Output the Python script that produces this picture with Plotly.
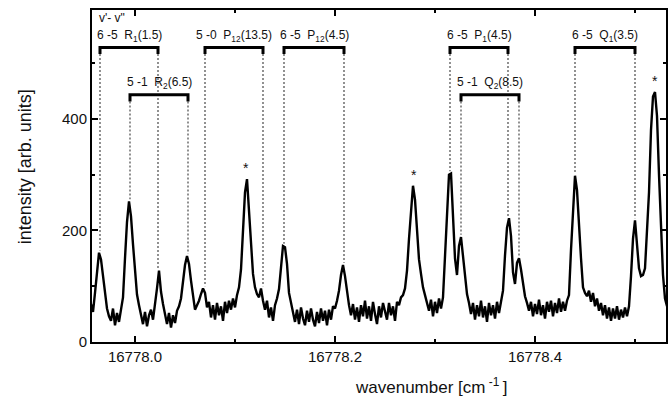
import numpy as np
import plotly.graph_objects as go

# ---------------- data ----------------
x_start = 16777.956      # first sample [cm-1]
x_step = 0.002           # sample spacing [cm-1]
intensity = [
    68, 54, 88, 128, 160, 148, 118, 84, 60, 46,
    38, 60, 30, 52, 36, 58, 80, 150, 215, 252,
    225, 175, 120, 85, 66, 46, 32, 54, 28, 48,
    58, 40, 66, 96, 128, 90, 68, 48, 32, 52,
    26, 48, 34, 56, 64, 78, 105, 138, 154, 140,
    110, 80, 58, 66, 74, 86, 96, 88, 62, 72,
    44, 66, 40, 70, 48, 64, 38, 72, 52, 74,
    58, 78, 62, 84, 98, 130, 205, 268, 292, 238,
    165, 122, 98, 86, 80, 96, 74, 58, 74, 44,
    62, 38, 66, 78, 95, 140, 172, 170, 140, 88,
    70, 52, 36, 58, 32, 62, 42, 30, 56, 36,
    60, 40, 28, 54, 34, 60, 38, 56, 30, 58,
    40, 64, 60, 74, 92, 120, 138, 118, 86, 66,
    48, 68, 40, 62, 36, 66, 46, 74, 42, 64,
    38, 72, 50, 32, 64, 44, 70, 52, 40, 70,
    48, 64, 38, 72, 66, 80, 84, 96, 128, 185,
    225, 280, 255, 190, 148, 122, 98, 84, 68, 56,
    76, 46, 72, 52, 78, 60, 80, 150, 240, 300,
    302, 225, 150, 120, 172, 188, 150, 110, 86, 70,
    50, 70, 40, 66, 46, 74, 44, 64, 36, 70,
    48, 66, 42, 72, 52, 72, 92, 155, 205, 222,
    190, 125, 104, 142, 150, 130, 102, 82, 70, 56,
    72, 46, 68, 50, 76, 48, 66, 42, 72, 54,
    74, 46, 70, 52, 78, 54, 72, 56, 74, 84,
    165, 245, 298, 272, 200, 150, 98, 88, 82, 92,
    72, 88, 64, 78, 56, 70, 48, 66, 42, 62,
    38, 60, 42, 64, 40, 58, 44, 62, 46, 64,
    118, 185, 218, 175, 132, 118, 120, 132, 190, 268,
    380, 440, 448, 405, 300, 200, 120, 78, 64,
]
wavenumber = [x_start + x_step * i for i in range(len(intensity))]

# assigned transitions (v'-v'' branch(J)), bracket ends [cm-1], bracket row
band_labels = [
    "6 -5\u00a0\u00a0R<sub>1</sub>(1.5)",
    "5 -1\u00a0\u00a0R<sub>2</sub>(6.5)",
    "5 -0\u00a0\u00a0P<sub>12</sub>(13.5)",
    "6 -5\u00a0\u00a0P<sub>12</sub>(4.5)",
    "6 -5\u00a0\u00a0P<sub>1</sub>(4.5)",
    "5 -1\u00a0\u00a0Q<sub>2</sub>(8.5)",
    "6 -5\u00a0\u00a0Q<sub>1</sub>(3.5)",
]
band_left = [16777.965, 16777.995, 16778.070, 16778.149, 16778.315, 16778.326, 16778.440]
band_right = [16778.023, 16778.053, 16778.128, 16778.209, 16778.373, 16778.384, 16778.500]
band_row = [0, 1, 0, 0, 0, 1, 0]

# peaks marked with an asterisk [cm-1]
marked_peaks = [16778.111, 16778.279, 16778.520]

x_tickvals = [16778.0, 16778.2, 16778.4]
y_tickvals = [0, 200, 400]

# ---------------- figure ----------------
FONT = "Liberation Sans, Arial, Helvetica, sans-serif"
wn = np.array(wavenumber)
it = np.array(intensity, dtype=float)


def peak_top(x0, half=0.003):
    m = (wn >= x0 - half) & (wn <= x0 + half)
    return float(it[m].max())


row_level = {0: 528, 1: 443}
leg = 12

fig = go.Figure()

# dashed guide lines from the brackets down to the peaks
dx, dy = [], []
for l, r, row in zip(band_left, band_right, band_row):
    for xe in (l, r):
        dx += [xe, xe, None]
        dy += [row_level[row] - leg, peak_top(xe) + 4, None]
fig.add_trace(go.Scatter(x=dx, y=dy, mode="lines",
                         line=dict(color="#858585", width=1.8, dash="2px,2px"),
                         hoverinfo="skip", showlegend=False))

# spectrum
fig.add_trace(go.Scatter(x=wavenumber, y=intensity, mode="lines",
                         line=dict(color="black", width=2.4),
                         showlegend=False))

# brackets
bx, by = [], []
for l, r, row in zip(band_left, band_right, band_row):
    lv = row_level[row]
    bx += [l, l, r, r, None]
    by += [lv - leg, lv, lv, lv - leg, None]
fig.add_trace(go.Scatter(x=bx, y=by, mode="lines",
                         line=dict(color="black", width=3),
                         hoverinfo="skip", showlegend=False))

annotations = []
for lab, l, r, row in zip(band_labels, band_left, band_right, band_row):
    annotations.append(dict(x=(l + r) / 2, y=row_level[row] + 21, xref="x", yref="y",
                            text=lab, showarrow=False, xanchor="center", yanchor="middle",
                            font=dict(family=FONT, size=12, color="#111")))
annotations.append(dict(x=band_left[0] - 0.0035, y=580, xref="x", yref="y",
                        text="v'- v\"", showarrow=False, xanchor="left", yanchor="middle",
                        font=dict(family=FONT, size=12, color="#111")))
for xp in marked_peaks:
    annotations.append(dict(x=xp, y=peak_top(xp) + 20, xref="x", yref="y",
                            text="*", showarrow=False, xanchor="center", yanchor="middle",
                            font=dict(family=FONT, size=14, color="#111")))
# axis titles
annotations.append(dict(x=(25 - 92) / 576, y=(342 - 167) / 332, xref="paper", yref="paper",
                        text="intensity [arb. units]", textangle=-90, showarrow=False,
                        xanchor="center", yanchor="middle",
                        font=dict(family=FONT, size=18, color="#111")))
annotations.append(dict(x=(432 - 92) / 576, y=(342 - 386) / 332, xref="paper", yref="paper",
                        text="wavenumber [cm<sup>\u00a0-1\u00a0</sup>]", showarrow=False,
                        xanchor="center", yanchor="middle",
                        font=dict(family=FONT, size=17, color="#111")))

fig.update_layout(
    width=668, height=405,
    margin=dict(l=92, r=0, t=10, b=63),
    paper_bgcolor="white", plot_bgcolor="white",
    font=dict(family=FONT, size=15, color="#111"),
    annotations=annotations,
    showlegend=False,
)
fig.update_xaxes(
    range=[16777.957, 16778.531],
    tickmode="array", tickvals=x_tickvals, tickformat=".1f",
    ticks="inside", ticklen=6, tickwidth=1.5, tickcolor="black",
    minor=dict(dtick=0.1, tick0=16778.0, ticks="inside", ticklen=3, tickwidth=1.5, tickcolor="black"),
    showline=True, linecolor="black", linewidth=2, mirror="ticks",
    showgrid=False, zeroline=False,
    tickfont=dict(family=FONT, size=15, color="#111"),
)
fig.update_yaxes(
    range=[0, 595],
    tickmode="array", tickvals=y_tickvals,
    ticks="inside", ticklen=6, tickwidth=1.5, tickcolor="black",
    minor=dict(dtick=100, tick0=0, ticks="inside", ticklen=3, tickwidth=1.5, tickcolor="black"),
    showline=True, linecolor="black", linewidth=2, mirror="ticks",
    showgrid=False, zeroline=False,
    tickfont=dict(family=FONT, size=15, color="#111"),
)

fig.write_html("out.html")
